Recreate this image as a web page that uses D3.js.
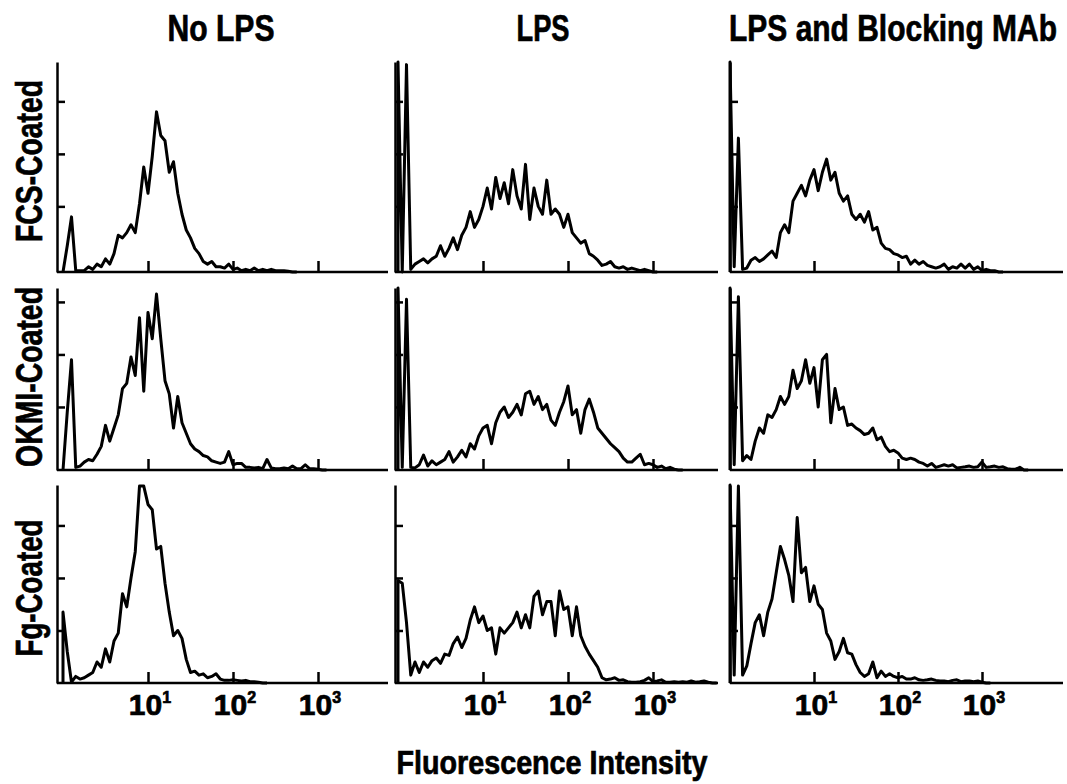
<!DOCTYPE html>
<html>
<head>
<meta charset="utf-8">
<script src="https://cdn.jsdelivr.net/npm/d3@7"></script>
<style>
  body { margin: 0; background: #fff; }
  text { font-family: "Liberation Sans Narrow", "Liberation Sans", Arial, sans-serif; font-weight: bold; fill: #000; stroke: #000; stroke-width: 0.7px; }
</style>
</head>
<body>
<svg id="chart"></svg>
<script>
/* labels */
var colTitles = ["No LPS", "LPS", "LPS and Blocking MAb"];
var rowTitles = ["FCS-Coated", "OKMI-Coated", "Fg-Coated"];
var xTitle = "Fluorescence Intensity";
var xTickValues = [10, 100, 1000];
var xTickExponents = ["1", "2", "3"];
var yTickValues = [[25, 45, 65], [24, 44, 64], [20, 40, 60]];
var yMax = [80, 69.3, 75.4];

/* channels are 0.05 decade wide, starting at 10^0 */
var binStep = 0.05;

/* counts per channel */
var fcsNoLps = [0, 10, 21, 0.5, 0.5, 0.5, 2, 1, 3, 2, 5, 3, 7, 14, 13, 15, 18, 15, 26, 40, 30, 44, 61, 52, 50, 38, 42, 30, 22, 16, 13, 9, 7, 4, 3, 4, 2, 2, 1.5, 3, 1, 1.5, 0.5, 1, 0.5, 1.5, 0.5, 1, 0.5, 1, 0.5, 0.5, 0.5, 0.3, 0];
var fcsLps = [81, 0, 79, 1, 3, 4, 5, 3.5, 5, 6, 10, 6, 9, 13, 8.5, 14, 17, 23, 17, 20, 25, 32, 24, 36, 28, 34, 26, 39, 29, 24, 41, 20, 32, 25, 22, 35, 22, 24, 22, 17, 22, 15, 13, 11, 12, 7, 6, 4.5, 2.5, 3, 4, 2, 1.5, 2, 1, 1.5, 1, 0.5, 1, 0.5, 0];
var fcsLpsMab = [81, 2, 51, 1, 1.5, 4.5, 5.5, 4, 5, 6.5, 8, 5.5, 15, 18, 15, 27, 30, 33, 29, 35, 39, 31, 38, 43, 35, 38, 30, 27, 29, 22, 20, 22, 19, 23, 16, 17, 11, 9, 8.5, 7, 6.5, 5.5, 6, 3, 4.5, 3, 4, 2.5, 2, 1.5, 2, 3, 1, 2, 1.5, 3, 1.5, 3, 1, 2, 0.5, 1, 0.5, 0.5, 0];
var okmiNoLps = [0, 22, 42, 1, 1.5, 3, 4, 3.5, 6, 9, 17, 11, 16, 21, 31, 33, 43, 36, 58, 30, 60, 50, 67, 50, 34, 29, 16, 28, 18, 14, 10, 8, 7, 5.5, 5, 3.5, 3, 2.5, 3, 7, 2, 2.5, 2.5, 1, 1, 0.8, 1, 0.5, 4, 0.8, 0.5, 0.5, 0.8, 0.5, 1.5, 0.5, 0.5, 2, 0.5, 0.5, 0.3, 0];
var okmiLps = [80, 1, 65, 1, 0.8, 2, 5.7, 1.5, 3.5, 2, 3, 4, 7, 3, 5, 7.5, 5, 10, 8, 13, 16, 17, 10, 18, 22, 24, 20, 22, 25, 21, 29, 30, 25, 28, 23, 25, 19, 17, 22, 26, 32, 21, 23, 14, 23, 27, 22, 16, 14, 12, 10, 8.5, 7, 4.5, 3, 3, 4.5, 6, 2, 2.5, 2, 1, 1.5, 0.5, 1, 0.3, 0];
var okmiLpsMab = [80, 2, 66, 3.5, 5.5, 4, 11, 16, 14, 21, 20, 23, 28, 25, 28, 38, 31, 34, 42, 33, 39, 24, 42, 44, 18, 31, 23, 24, 17, 17.5, 16, 15, 13.5, 14, 16, 11.5, 12.5, 9, 7, 7.5, 6.5, 4.5, 4, 4.5, 4, 3, 2.5, 1.5, 2.5, 1, 1.5, 2, 1.5, 2, 0.8, 1, 1.2, 1.5, 1, 1.2, 3, 1, 1.2, 1.5, 1, 1.2, 0.5, 0.3, 0.3, 1, 0];
var fgNoLps = [27, 12, 0.3, 2.5, 1.5, 2, 3, 4, 8, 6, 13, 8, 16, 19, 34, 29, 40, 50, 75, 75, 68, 66, 51, 52, 38, 27, 18, 20, 17, 9, 4, 4.5, 3, 3.5, 2, 2.5, 3.5, 1.5, 1, 1, 1.2, 1, 0.8, 1, 0.5, 0.5, 0.3, 0];
var fgLps = [39, 38, 23, 3, 8, 4, 8, 6, 8.5, 9.5, 7.5, 11, 10.5, 15, 17.5, 13.5, 17, 24, 29, 23, 25.5, 20, 21, 11, 21, 19, 21, 23, 27, 21, 26, 21, 33, 35, 26, 31, 31, 18, 35, 28, 29, 18, 29, 18, 14, 11, 8.5, 6, 2, 1.2, 1.5, 2, 1, 1.2, 0.5, 0.3, 0.3, 0.5, 1, 2, 0.5, 0.8, 1.2, 0.3, 0.3, 0.5, 0.3, 0.5, 0.3, 0.8, 0.3, 0.5, 0.8, 0.3, 0];
var fgLpsMab = [80, 3, 75, 3, 6.5, 15, 23, 26, 18, 27, 32, 42, 52, 47, 41, 31, 63, 42, 44, 31, 37, 30, 28, 19, 16, 9, 12, 17, 11.5, 11, 7, 4, 2.5, 3.5, 8, 2, 4.5, 2.5, 3.5, 2.5, 2, 2.5, 1.5, 1.5, 2, 1.2, 1, 1.2, 1.5, 1, 0.8, 0.8, 0.5, 1, 1.2, 0.5, 0.8, 0.8, 0.5, 0.8, 0.3, 0];

var panels = [
  fcsNoLps, fcsLps, fcsLpsMab,
  okmiNoLps, okmiLps, okmiLpsMab,
  fgNoLps, fgLps, fgLpsMab
];

var width = 1067;
var height = 784;

/* panel frames: left/right of the x axis line, pixel of 10^0 and 10^3 */
var cols = [
  { left: 57, right: 388, x0: 63, x3: 318, title: 221 },
  { left: 395, right: 718, x0: 398, x3: 653, title: 543 },
  { left: 730, right: 1063, x0: 730, x3: 982, title: 893 }
];
var rows = [
  { top: 62, base: 272, label: 161 },
  { top: 288, base: 470, label: 377 },
  { top: 485, base: 683, label: 588 }
];
var titleWidths = [107, 53, 328];
var labelWidths = [162, 180, 137];

var svg = d3.select("#chart").attr("width", width).attr("height", height);

var styleAxis = (sel) => {
  sel.selectAll("line, path").attr("stroke", "#000").attr("stroke-width", 2.5);
};

/* condensed look: squeeze a text to a target width around its anchor */
var squeeze = (sel, x, y, w, rot) => {
  var natural = sel.node().getComputedTextLength();
  var k = Math.min(1, w / natural);
  sel.attr(
    "transform",
    "translate(" + x + "," + y + ")" + (rot ? " rotate(" + rot + ")" : "") + " scale(" + k + ",1)"
  );
};

panels.forEach((vals, k) => {
  var r = Math.floor(k / 3);
  var c = k % 3;
  var col = cols[c];
  var row = rows[r];

  var xScale = d3.scaleLog().domain([1, 1000]).range([col.x0, col.x3]);
  var yScale = d3
    .scaleLinear()
    .domain([0, yMax[r]])
    .range([row.base, row.top])
    .clamp(true);

  var g = svg.append("g").attr("class", "panel");

  /* baseline runs past the scale range on both sides */
  g.append("line")
    .attr("x1", col.left)
    .attr("x2", col.right)
    .attr("y1", row.base)
    .attr("y2", row.base)
    .attr("stroke", "#000")
    .attr("stroke-width", 2.5);

  var xAxis = d3
    .axisBottom(xScale)
    .tickValues(xTickValues)
    .tickSize(-11)
    .tickSizeOuter(0)
    .tickFormat("");
  g.append("g")
    .attr("transform", "translate(0," + row.base + ")")
    .call(xAxis)
    .call((a) => a.select(".domain").remove())
    .call(styleAxis);

  var yAxis = d3
    .axisLeft(yScale)
    .tickValues(yTickValues[r])
    .tickSize(-8)
    .tickSizeOuter(0)
    .tickFormat("");
  g.append("g")
    .attr("transform", "translate(" + col.left + ",0)")
    .call(yAxis)
    .call(styleAxis);

  var pts = [[1, 0]];
  vals.forEach((v, i) => {
    pts.push([Math.pow(10, i * binStep), v]);
  });
  pts.push([Math.pow(10, vals.length * binStep), 0]);

  var line = d3
    .line()
    .x((d) => xScale(d[0]))
    .y((d) => yScale(d[1]));

  g.append("path")
    .datum(pts)
    .attr("d", line)
    .attr("fill", "none")
    .attr("stroke", "#000")
    .attr("stroke-width", 3)
    .attr("stroke-linejoin", "round");

  if (r === 2) {
    xTickValues.forEach((v, j) => {
      var t = g
        .append("text")
        .attr("x", xScale(v) + 2)
        .attr("y", 715)
        .attr("text-anchor", "middle")
        .style("font-size", "30px");
      t.append("tspan").text("10");
      t.append("tspan")
        .attr("dy", -12)
        .style("font-size", "16px")
        .text(xTickExponents[j]);
    });
  }
});

/* column titles */
colTitles.forEach((t, c) => {
  var el = svg.append("text")
    .attr("text-anchor", "middle")
    .style("font-size", "37px")
    .text(t);
  squeeze(el, cols[c].title, 41, titleWidths[c]);
});

/* row labels */
rowTitles.forEach((t, r) => {
  var el = svg.append("text")
    .attr("text-anchor", "middle")
    .style("font-size", "37px")
    .text(t);
  squeeze(el, 42, rows[r].label, labelWidths[r], -90);
});

var xt = svg.append("text")
  .attr("text-anchor", "middle")
  .style("font-size", "33px")
  .text(xTitle);
squeeze(xt, 552, 774, 311);
</script>
</body>
</html>
